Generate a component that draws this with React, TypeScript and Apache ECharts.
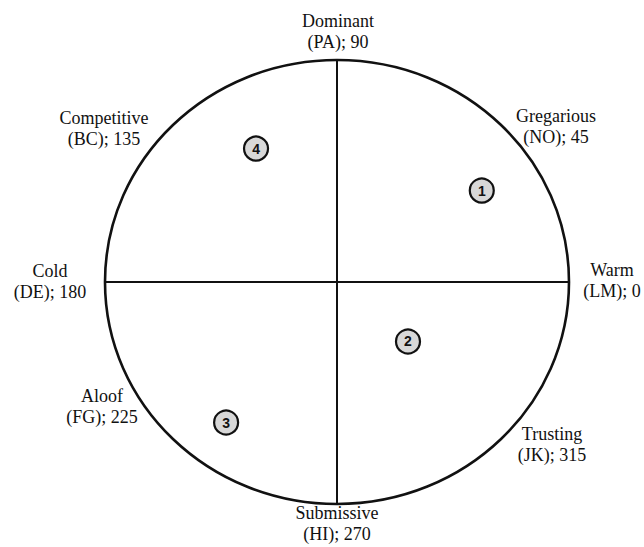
import React, { useEffect, useRef } from "react";
import * as echarts from "echarts";

// Octant labels (name, code, angle in degrees)
const octantNames = ["Warm", "Gregarious", "Dominant", "Competitive", "Cold", "Aloof", "Submissive", "Trusting"];
const octantCodes = ["LM", "NO", "PA", "BC", "DE", "FG", "HI", "JK"];
const octantAngles = [0, 45, 90, 135, 180, 225, 270, 315];

// Numbered points (x = warmth, y = dominance, normalized to circle radius)
const pointIds = ["1", "2", "3", "4"];
const pointX = [0.624, 0.306, -0.478, -0.349];
const pointY = [0.412, -0.268, -0.633, 0.601];

// Label layout (pixel anchor of each label block center)
const labelLayout: [number, number][] = [
  [612, 280],
  [556, 126],
  [338, 31],
  [104, 128],
  [50, 281],
  [102, 406],
  [337, 523],
  [552, 444],
];

const FONT = "Liberation Serif";

export default function App() {
  const ref = useRef<HTMLDivElement>(null);
  useEffect(() => {
    if (!ref.current) return;
    const chart = echarts.init(ref.current, undefined, { renderer: "svg" });
    const graphics = octantNames.map((n, i) => ({
      type: "text",
      x: labelLayout[i][0],
      y: labelLayout[i][1],
      style: {
        text: `${n}\n(${octantCodes[i]}); ${octantAngles[i]}`,
        fontFamily: FONT,
        fontSize: 18,
        fill: "#111",
        align: "center",
        verticalAlign: "middle",
        lineHeight: 21,
      },
    }));
    chart.setOption({
      animation: false,
      backgroundColor: "#fff",
      grid: { left: 105, right: 75, top: 60, bottom: 43 },
      xAxis: { type: "value", min: -1, max: 1, show: false },
      yAxis: { type: "value", min: -1, max: 1, show: false },
      graphic: graphics,
      series: [
        {
          type: "custom",
          data: [[0, 0]],
          silent: true,
          z: 1,
          renderItem: (params: any, api: any) => {
            const c = api.coord([0, 0]);
            const l = api.coord([-1, 0]);
            const r = api.coord([1, 0]);
            const t = api.coord([0, 1]);
            const b = api.coord([0, -1]);
            return {
              type: "group",
              children: [
                {
                  type: "ellipse",
                  shape: { cx: c[0], cy: c[1], rx: (r[0] - l[0]) / 2, ry: (b[1] - t[1]) / 2 },
                  style: { fill: "none", stroke: "#111", lineWidth: 2.6 },
                },
                {
                  type: "line",
                  shape: { x1: l[0], y1: l[1], x2: r[0], y2: r[1] },
                  style: { stroke: "#111", lineWidth: 2 },
                },
                {
                  type: "line",
                  shape: { x1: t[0], y1: t[1], x2: b[0], y2: b[1] },
                  style: { stroke: "#111", lineWidth: 2 },
                },
              ],
            };
          },
        },
        {
          type: "scatter",
          z: 3,
          symbolSize: 24,
          data: pointIds.map((id, i) => ({ name: id, value: [pointX[i], pointY[i]] })),
          itemStyle: { color: "#d8d8d8", borderColor: "#111", borderWidth: 2.2, opacity: 1 },
          label: {
            show: true,
            position: "inside",
            formatter: (p: any) => p.name,
            color: "#111",
            fontFamily: "Liberation Sans",
            fontWeight: "bold",
            fontSize: 14,
          },
        },
      ],
    });
    return () => chart.dispose();
  }, []);
  return <div ref={ref} style={{ position: "fixed", left: 0, top: 0, width: 644, height: 547 }} />;
}
